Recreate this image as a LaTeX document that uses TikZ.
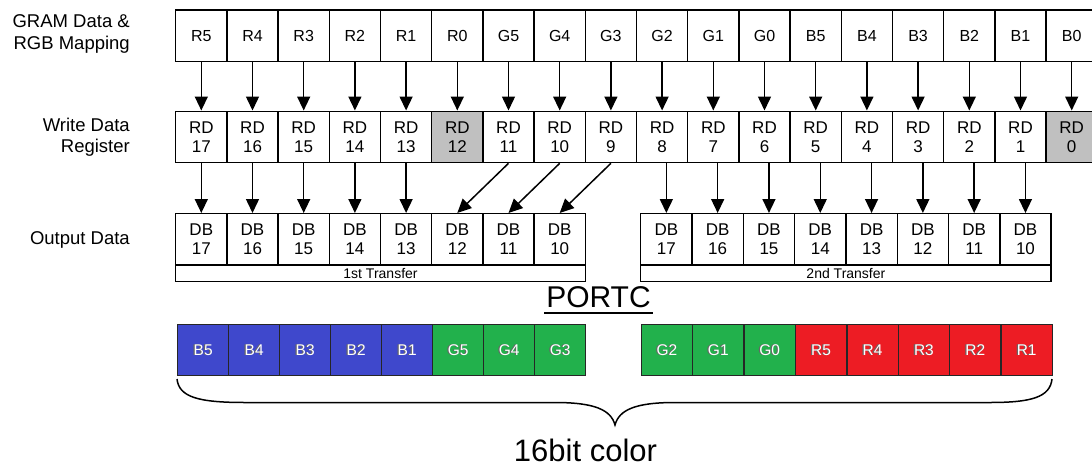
\documentclass[tikz,border=0pt]{standalone}
\usepackage{fontspec}
\setmainfont{Liberation Sans}
\usetikzlibrary{arrows.meta}
\definecolor{cblue}{HTML}{3F48CC}
\definecolor{cgreen}{HTML}{22B14C}
\definecolor{cred}{HTML}{ED1C24}
\definecolor{cgray}{HTML}{C0C0C0}
\newcommand\shtext[1]{\rlap{\kern-1.3pt\color{black!60}#1}{\color{white}#1}}
\begin{document}
\begin{tikzpicture}[x=1pt,y=-1pt,
  cell/.style={draw, line width=1.4pt, minimum width=51.2pt, minimum height=51.4pt,
    inner sep=0pt, anchor=north west, font=\fontsize{16}{19}\selectfont},
  regcell/.style={cell, align=center, font=\fontsize{17}{19}\selectfont},
  tbox/.style={draw, line width=1.4pt, minimum height=16.5pt, inner sep=0pt,
    anchor=north west, font=\fontsize{14}{15}\selectfont},
  colcell/.style={draw=black!85, line width=1.4pt, minimum width=51pt, minimum height=51pt,
    inner sep=0pt, anchor=north west, font=\fontsize{15.5}{17}\selectfont},
  lbl/.style={anchor=east, align=right, inner sep=0pt},
  arr/.style={-{Triangle[width=13pt,length=14pt]}, line width=1.5pt}]
\useasboundingbox (0,0) rectangle (1092,466);
\clip (0,0) rectangle (1092,466);
\fill[white] (0,0) rectangle (1092,466);

% left labels
\node[lbl, font=\fontsize{18.5}{22}\selectfont] (l1) at (130,34.2) {GRAM Data \&\\RGB Mapping};
\node[lbl, font=\fontsize{18.5}{21}\selectfont] (l2) at (130,137) {Write Data\\Register};
\node[lbl, font=\fontsize{18.5}{22}\selectfont] (l3) at (130,239.5) {Output Data};

% GRAM row
\foreach \t [count=\i from 0] in {R5,R4,R3,R2,R1,R0,G5,G4,G3,G2,G1,G0,B5,B4,B3,B2,B1,B0}
  \node[cell] (t\i) at ({175+51.2*\i},9.3) {\t};

% write data register row
\foreach \i in {0,...,17} {
  \pgfmathtruncatemacro\n{17-\i}
  \ifnum\i=5 \def\fc{cgray}\else\ifnum\i=17 \def\fc{cgray}\else\def\fc{white}\fi\fi
  \node[regcell, fill=\fc] (r\i) at ({175+51.2*\i},110.5) {RD\\\n};
}

% output data, first transfer
\foreach \i in {0,...,7} {
  \pgfmathtruncatemacro\n{17-\i}
  \node[regcell] (a\i) at ({175+51.2*\i},213) {DB\\\n};
}
\node[tbox, minimum width=409.6pt] (tr1) at (175,264.5) {1st Transfer};

% output data, second transfer
\foreach \i in {0,...,7} {
  \pgfmathtruncatemacro\n{17-\i}
  \node[regcell, minimum width=51.3pt] (b\i) at ({640+51.3*\i},213) {DB\\\n};
}
\node[tbox, minimum width=410.4pt] (tr2) at (640,264.5) {2nd Transfer};

% arrows GRAM -> register
\foreach \i in {0,...,17}
  \draw[arr] (t\i.south) -- (r\i.north);

% arrows register -> output
\foreach \i in {0,...,4}
  \draw[arr] (r\i.south) -- (a\i.north);
\draw[arr] (r6.south) -- (a5.north);
\draw[arr] (r7.south) -- (a6.north);
\draw[arr] (r8.south) -- (a7.north);
\foreach \i in {0,...,7} {
  \pgfmathtruncatemacro\j{\i+9}
  \draw[arr] (r\j.south -| b\i.north) -- (b\i.north);
}

% PORTC
\node[inner sep=0pt, anchor=base, font=\fontsize{30}{34}\selectfont] (portc) at (598.5,307) {PORTC};
\draw[line width=2.6pt] ([xshift=-2pt,yshift=-6pt]portc.base west) -- ([xshift=2pt,yshift=-6pt]portc.base east);

% coloured 16-bit row
\foreach \t/\c [count=\i from 0] in {B5/cblue,B4/cblue,B3/cblue,B2/cblue,B1/cblue,G5/cgreen,G4/cgreen,G3/cgreen}
  \node[colcell, fill=\c] (c\i) at ({177+51*\i},324) {\shtext{\t}};
\foreach \t/\c [count=\i from 0] in {G2/cgreen,G1/cgreen,G0/cgreen,R5/cred,R4/cred,R3/cred,R2/cred,R1/cred}
  \node[colcell, fill=\c, minimum width=51.4pt] (d\i) at ({640.5+51.4*\i},324) {\shtext{\t}};

% brace
\draw[line width=1.5pt]
  (177,379) .. controls (179,397) and (198,402.5) .. (245,402.5)
  -- (555,402.5) .. controls (595,402.5) and (611,410) .. (615,425)
  .. controls (619,410) and (635,402.5) .. (675,402.5)
  -- (990,402.5) .. controls (1032,402.5) and (1050,397) .. (1052,379);

\node[inner sep=0pt, anchor=base, font=\fontsize{31}{35}\selectfont] (bits) at (585.5,461.5) {16bit color};
\end{tikzpicture}
\end{document}
